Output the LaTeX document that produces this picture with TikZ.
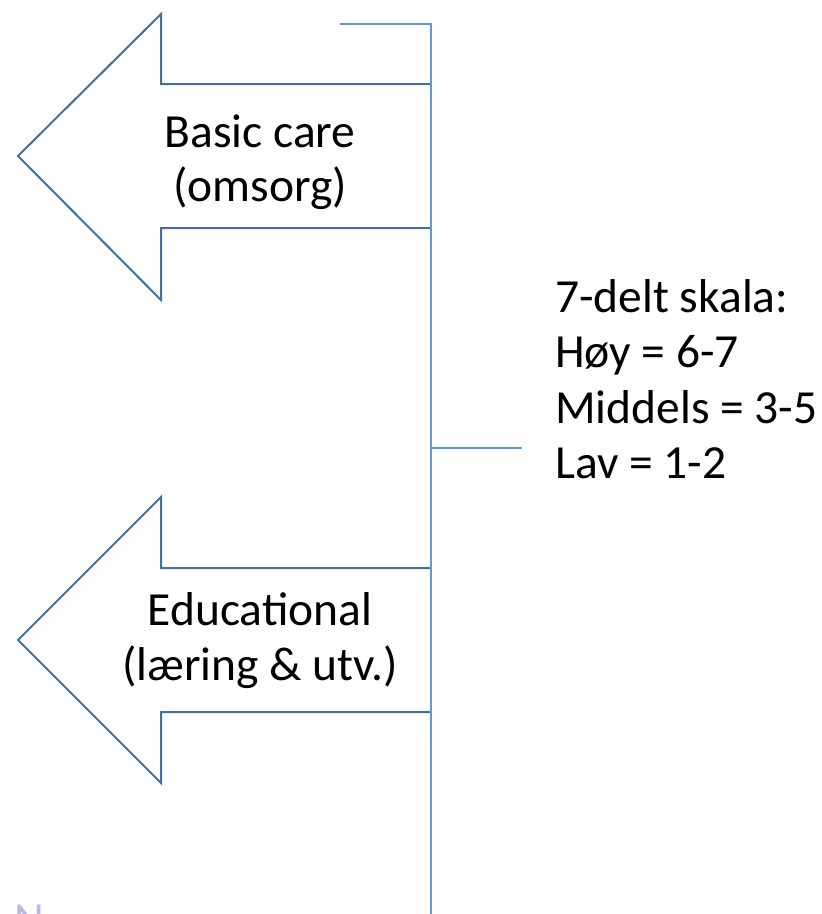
\documentclass[tikz,border=0pt]{standalone}
\usepackage{fontspec}
\setmainfont{Carlito}
\definecolor{arrowline}{HTML}{41719C}
\definecolor{axisline}{HTML}{5B9BD5}
\definecolor{faint}{HTML}{B8B8E8}
\begin{document}
\begin{tikzpicture}[x=1pt,y=-1pt,
  arrowshape/.style={draw=arrowline,line width=2pt,line join=miter,fill=white},
  axis/.style={draw=axisline,line width=2.2pt},
  lbl/.style={font=\fontsize{47.5}{54.5}\selectfont,align=center,inner sep=0pt,anchor=base},
  scaletext/.style={font=\fontsize{47.5}{55.5}\selectfont,align=left,inner sep=0pt,anchor=base west}]
\useasboundingbox (0,0) rectangle (822,914);
\begin{scope}
\clip (0,0) rectangle (822,914);
\node[text=faint,font=\fontsize{46}{46}\selectfont,anchor=north west,inner sep=0pt] (ghost) at (14,905) {N};
\end{scope}
% arrows
\draw[arrowshape] (430,84) -- (161,84) -- (161,14) -- (18,156) -- (161,300) -- (161,228) -- (430,228);
\draw[arrowshape] (430,568) -- (161,568) -- (161,497) -- (18,640) -- (161,783) -- (161,712) -- (430,712);
% axis
\coordinate (ttop) at (340,24);
\coordinate (tcorner) at (431,24);
\coordinate (tbottom) at (431,914);
\coordinate (tmid) at (431,448);
\coordinate (tright) at (522,448);
\draw[axis] (ttop) -- (tcorner) -- (tbottom);
\draw[axis] (tmid) -- (tright);
% labels
\node[lbl] (basic) at (260,201.5) {Basic care\\(omsorg)};
\node[lbl] (edu) at (260,680) {Educational\\(læring \& utv.)};
\node[scaletext] (sc) at (555,478.5) {7-delt skala:\\Høy = 6-7\\Middels = 3-5\\Lav = 1-2};
\end{tikzpicture}
\end{document}
